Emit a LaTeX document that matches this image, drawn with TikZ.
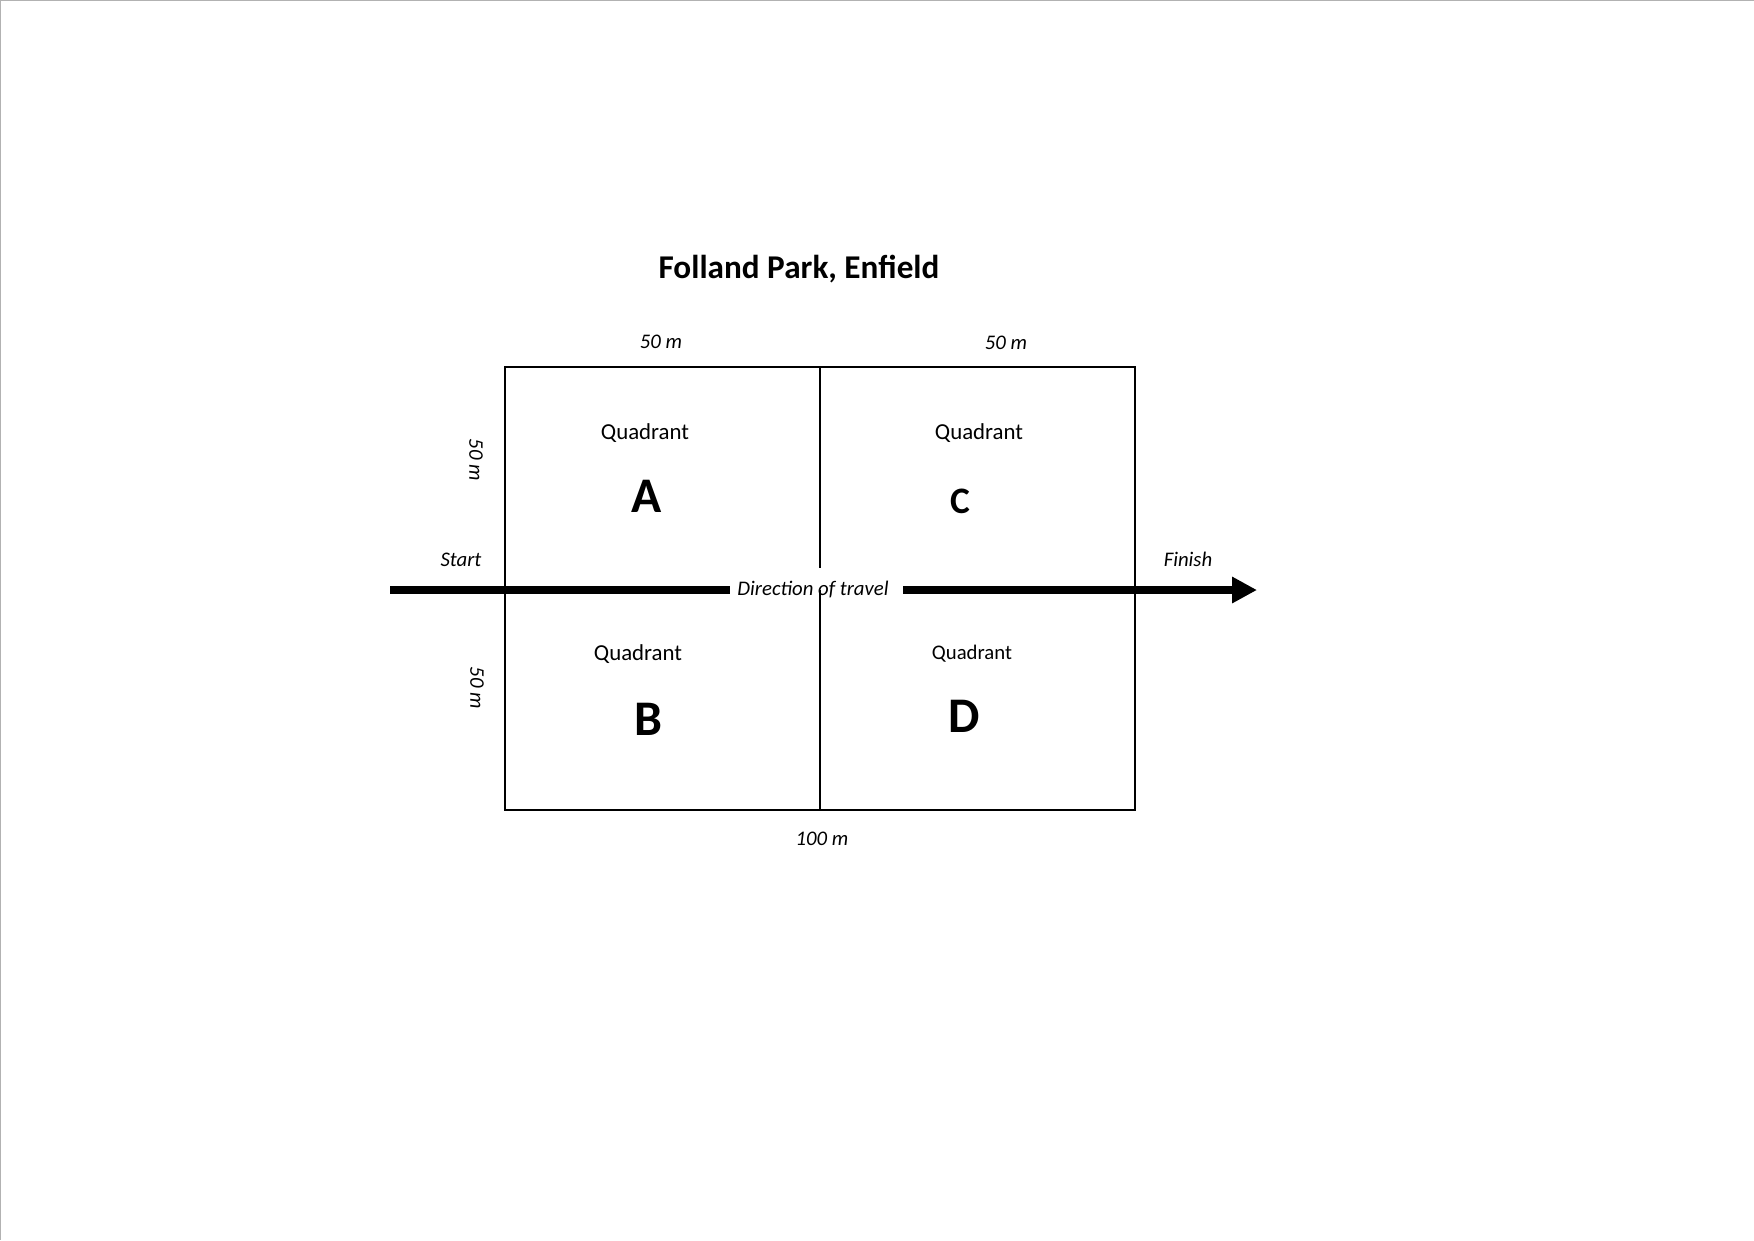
\documentclass[tikz,border=0pt]{standalone}
\usepackage{fontspec}
\setmainfont{Carlito}
\usetikzlibrary{arrows.meta}
\begin{document}
\begin{tikzpicture}[x=0.16933mm,y=-0.16933mm,
  frame/.style={line width=1.25pt},
  travel/.style={line width=3.8pt},
  dimlabel/.style={font=\fontsize{10}{12}\selectfont\itshape, inner sep=0pt},
  quadlabel/.style={font=\fontsize{11}{13}\selectfont, inner sep=0pt},
  letterlabel/.style={font=\fontsize{24}{28}\selectfont\bfseries, inner sep=0pt}]
\useasboundingbox (0,0) rectangle (1754,1240);
\draw[gray!60, line width=0.5pt] (0,1240) -- (0,0.5) -- (1754,0.5);
% field
\coordinate (tl) at (505,367);
\coordinate (br) at (1135,810);
\coordinate (mt) at (820,367);
\coordinate (mg) at (820,568);
\coordinate (ma) at (820,590);
\coordinate (mb) at (820,810);
\draw[frame] (tl) rectangle (br);
\draw[frame] (mt) -- (mg);
% arrow
\node[font=\fontsize{10}{12}\selectfont\itshape, inner sep=0pt] (dir) at (813,589) {Direction of travel};
\coordinate (as) at (390,590);
\coordinate (al) at (730,590);
\coordinate (ar) at (903,590);
\coordinate (ae) at (1257,590);
\draw[travel] (as) -- (al);
\draw[travel, -{Triangle[length=4.2mm, width=4.2mm]}] (ar) -- (ae);
\draw[frame] (ma) -- (mb);
% labels
\node[font=\fontsize{16}{19}\selectfont\bfseries, inner sep=0pt] (title) at (799,269) {Folland Park, Enfield};
\node[dimlabel] (top1) at (661,342) {50 m};
\node[dimlabel] (top2) at (1006,343) {50 m};
\node[dimlabel] (bot) at (822,839) {100 m};
\node[dimlabel, rotate=-90] (left1) at (476,460) {50 m};
\node[dimlabel, rotate=-90] (left2) at (477,688) {50 m};
\node[dimlabel] (start) at (461,560) {Start};
\node[dimlabel] (finish) at (1188,559) {Finish};
\node[quadlabel] (qa) at (645,433) {Quadrant};
\node[letterlabel] (la) at (647,496) {A};
\node[quadlabel] (qc) at (979,433) {Quadrant};
\node[font=\fontsize{18}{21}\selectfont\bfseries, inner sep=0pt] (lc) at (960,501) {C};
\node[quadlabel] (qb) at (638,654) {Quadrant};
\node[letterlabel] (lb) at (648,719) {B};
\node[font=\fontsize{10}{12}\selectfont, inner sep=0pt] (qd) at (972,654) {Quadrant};
\node[letterlabel] (ld) at (964,716) {D};
\end{tikzpicture}
\end{document}
